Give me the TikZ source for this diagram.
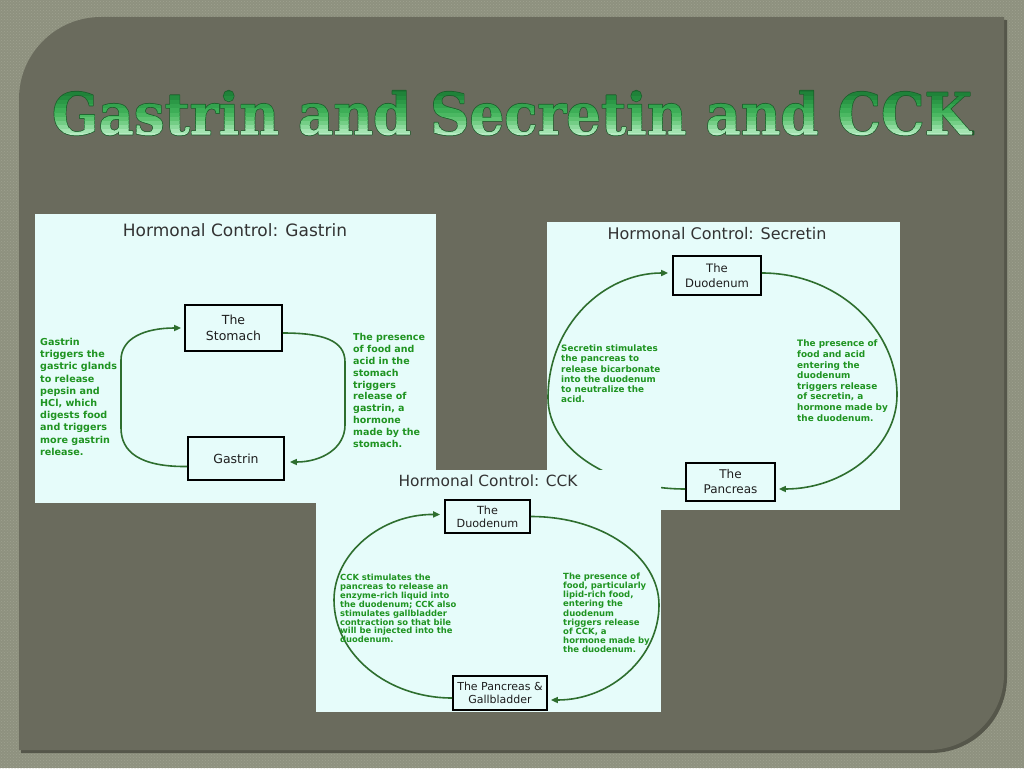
\documentclass[tikz,border=0pt]{standalone}
\usepackage{fontspec}
\setmainfont{DejaVu Sans}
\setsansfont{DejaVu Sans}
\newfontfamily\ttlfont{DejaVu Serif}
\usetikzlibrary{arrows.meta,patterns}

\definecolor{outerbg}{HTML}{8E917F}
\definecolor{outerdot}{HTML}{9FA28F}
\definecolor{innerbg}{HTML}{6A6B5D}
\definecolor{innershadow}{HTML}{55564A}
\definecolor{panelc}{HTML}{E6FCFA}
\definecolor{labelc}{HTML}{1F9421}
\definecolor{arrowc}{HTML}{2E6E2E}
\definecolor{boxtext}{HTML}{1E1E1E}
\definecolor{ptitle}{HTML}{333333}
\definecolor{ttlline}{HTML}{1B5E2A}

% ---- title: text used as clipping path, filled with green bands ----
\makeatletter
\newcommand\ttlstr{Gastrin and Secretin and CCK}
\newcommand\ttlfnt{\ttlfont\bfseries\fontsize{50}{60}\selectfont}
\newlength\ttlW \newlength\ttlH \newlength\ttlS
\settowidth\ttlW{\ttlfnt\ttlstr}
\settoheight\ttlH{\ttlfnt\ttlstr}
\setlength\ttlS{\dimexpr(\ttlH+4pt)/12\relax}
\def\bandcode{}
\def\addband#1#2{%
  \edef\bandcode{\bandcode\space #2 rg -\strip@pt\ttlW\space
    \strip@pt\dimexpr -2pt + #1\ttlS\relax\space
    \strip@pt\ttlW\space \strip@pt\dimexpr\ttlS+0.4pt\relax\space re f}}
\addband{0}{0.714 0.922 0.761}
\addband{1}{0.635 0.890 0.690}
\addband{2}{0.549 0.855 0.612}
\addband{3}{0.455 0.808 0.525}
\addband{4}{0.369 0.761 0.443}
\addband{5}{0.294 0.722 0.384}
\addband{6}{0.239 0.682 0.341}
\addband{7}{0.200 0.639 0.306}
\addband{8}{0.169 0.596 0.275}
\addband{9}{0.141 0.549 0.247}
\addband{10}{0.122 0.510 0.224}
\addband{11}{0.106 0.471 0.204}
\makeatother
\newcommand{\mytitletext}{\resizebox{920pt}{44pt}{\color{ttlline}\special{pdf:literal direct q 5 Tr 1.3 w 1 j}\ttlfnt\ttlstr\special{pdf:content \bandcode}\special{pdf:literal direct Q}}}

\begin{document}
\begin{tikzpicture}[x=1pt,y=-1pt,
 box/.style={draw=black, line width=1.7pt, fill=panelc, text=boxtext, align=center, inner sep=0pt},
 arr/.style={draw=arrowc, line width=1.6pt, -{Triangle[length=7pt,width=6pt]}},
 lbl/.style={text=labelc, align=left, anchor=north west, inner sep=0pt},
 ptl/.style={text=ptitle, inner sep=0pt},
]
\useasboundingbox (0,0) rectangle (1024,768);
% outer textured background
\fill[outerbg] (0,0) rectangle (1024,768);
\fill[pattern=crosshatch dots, pattern color=outerdot] (0,0) rectangle (1024,768);

% inner slide panel
\fill[innershadow] (21,753) -- (21,102) arc[start angle=180,end angle=270,radius=82] -- (1007,20) -- (1007,677) arc[start angle=0,end angle=90,radius=76] -- cycle;
\fill[innerbg] (19,750) -- (19,99) arc[start angle=180,end angle=270,radius=82] -- (1004,17) -- (1004,674) arc[start angle=0,end angle=90,radius=76] -- cycle;

% title
\node[inner sep=0pt] (title) at (512,113) {\mytitletext};

% ================= Gastrin panel =================
\fill[panelc] (35,214) rectangle (436,503);
\node[ptl, font=\fontsize{17}{20}\selectfont] (gt) at (235,230) {Hormonal Control: Gastrin};
\node[box, minimum width=97pt, minimum height=46pt, font=\fontsize{12.5}{16}\selectfont] (gs) at (233.5,328) {The\\Stomach};
\node[box, minimum width=96pt, minimum height=43pt, font=\fontsize{12.5}{16}\selectfont] (gg) at (236,458.5) {Gastrin};
\draw[arr] ([yshift=-8pt]gg.west) .. controls (140,467) and (121,452) .. (121,428) -- (121,360) .. controls (121,338) and (145,328) .. ([xshift=-3pt]gs.west);
\draw[arr] ([yshift=-5pt]gs.east) .. controls (322,333) and (345,340) .. (345,362) -- (345,425) .. controls (345,448) and (322,462) .. ([xshift=5pt,yshift=-3.5pt]gg.east);
\node[lbl, font=\fontsize{9.6}{12.2}\selectfont\bfseries] (gtl) at (40,338) {Gastrin\\triggers the\\gastric glands\\to release\\pepsin and\\HCl, which\\digests food\\and triggers\\more gastrin\\release.};
\node[lbl, font=\fontsize{9.5}{11.9}\selectfont\bfseries] (gtr) at (353,333) {The presence\\of food and\\acid in the\\stomach\\triggers\\release of\\gastrin, a\\hormone\\made by the\\stomach.};

% ================= Secretin panel =================
\fill[panelc] (547,222) rectangle (900,510);
\node[ptl, font=\fontsize{16}{19}\selectfont] (st) at (717,234) {Hormonal Control: Secretin};
\node[box, minimum width=88pt, minimum height=39pt, font=\fontsize{11.6}{15}\selectfont] (sd) at (717,275.5) {The\\Duodenum};
\node[box, minimum width=89pt, minimum height=38pt, font=\fontsize{12}{15}\selectfont] (sp) at (730.5,482) {The\\Pancreas};
\draw[arr] ([yshift=-7pt]sp.west) .. controls (610,489) and (548,449) .. (548,398) .. controls (548,325) and (604,273) .. ([xshift=-4pt,yshift=2.5pt]sd.west);
\draw[arr] ([yshift=2.5pt]sd.east) .. controls (836,273) and (897,328) .. (897,395) .. controls (897,447) and (844,489) .. ([xshift=3pt,yshift=-7pt]sp.east);
\node[lbl, font=\fontsize{8.8}{10.1}\selectfont\bfseries] (stl) at (561,345) {Secretin stimulates\\the pancreas to\\release bicarbonate\\into the duodenum\\to neutralize the\\acid.};
\node[lbl, font=\fontsize{8.9}{10.6}\selectfont\bfseries] (str) at (797,340) {The presence of\\food and acid\\entering the\\duodenum\\triggers release\\of secretin, a\\hormone made by\\the duodenum.};

% ================= CCK panel =================
\fill[panelc] (316,470) rectangle (661,712);
\node[ptl, font=\fontsize{15.4}{18}\selectfont] (ct) at (488,481) {Hormonal Control: CCK};
\node[box, minimum width=85pt, minimum height=33pt, font=\fontsize{11.2}{13}\selectfont] (cd) at (487.5,516.5) {The\\Duodenum};
\node[box, minimum width=94pt, minimum height=34pt, font=\fontsize{11}{13}\selectfont] (cp) at (500,693) {The Pancreas \&\\Gallbladder};
\draw[arr] ([yshift=-5pt]cp.west) .. controls (387,698) and (334,654) .. (334,600) .. controls (334,553) and (382,514) .. ([xshift=-4pt,yshift=2pt]cd.west);
\draw[arr] (cd.east) .. controls (602,516.5) and (659,556) .. (659,605) .. controls (659,657) and (611,700) .. ([xshift=3pt,yshift=-7pt]cp.east);
\node[lbl, font=\fontsize{8.4}{8.9}\selectfont\bfseries] (ctl) at (340,574) {CCK stimulates the\\pancreas to release an\\enzyme-rich liquid into\\the duodenum; CCK also\\stimulates gallbladder\\contraction so that bile\\will be injected into the\\duodenum.};
\node[lbl, font=\fontsize{8.5}{9.1}\selectfont\bfseries] (ctr) at (563,573) {The presence of\\food, particularly\\lipid-rich food,\\entering the\\duodenum\\triggers release\\of CCK, a\\hormone made by\\the duodenum.};
\end{tikzpicture}
\end{document}
